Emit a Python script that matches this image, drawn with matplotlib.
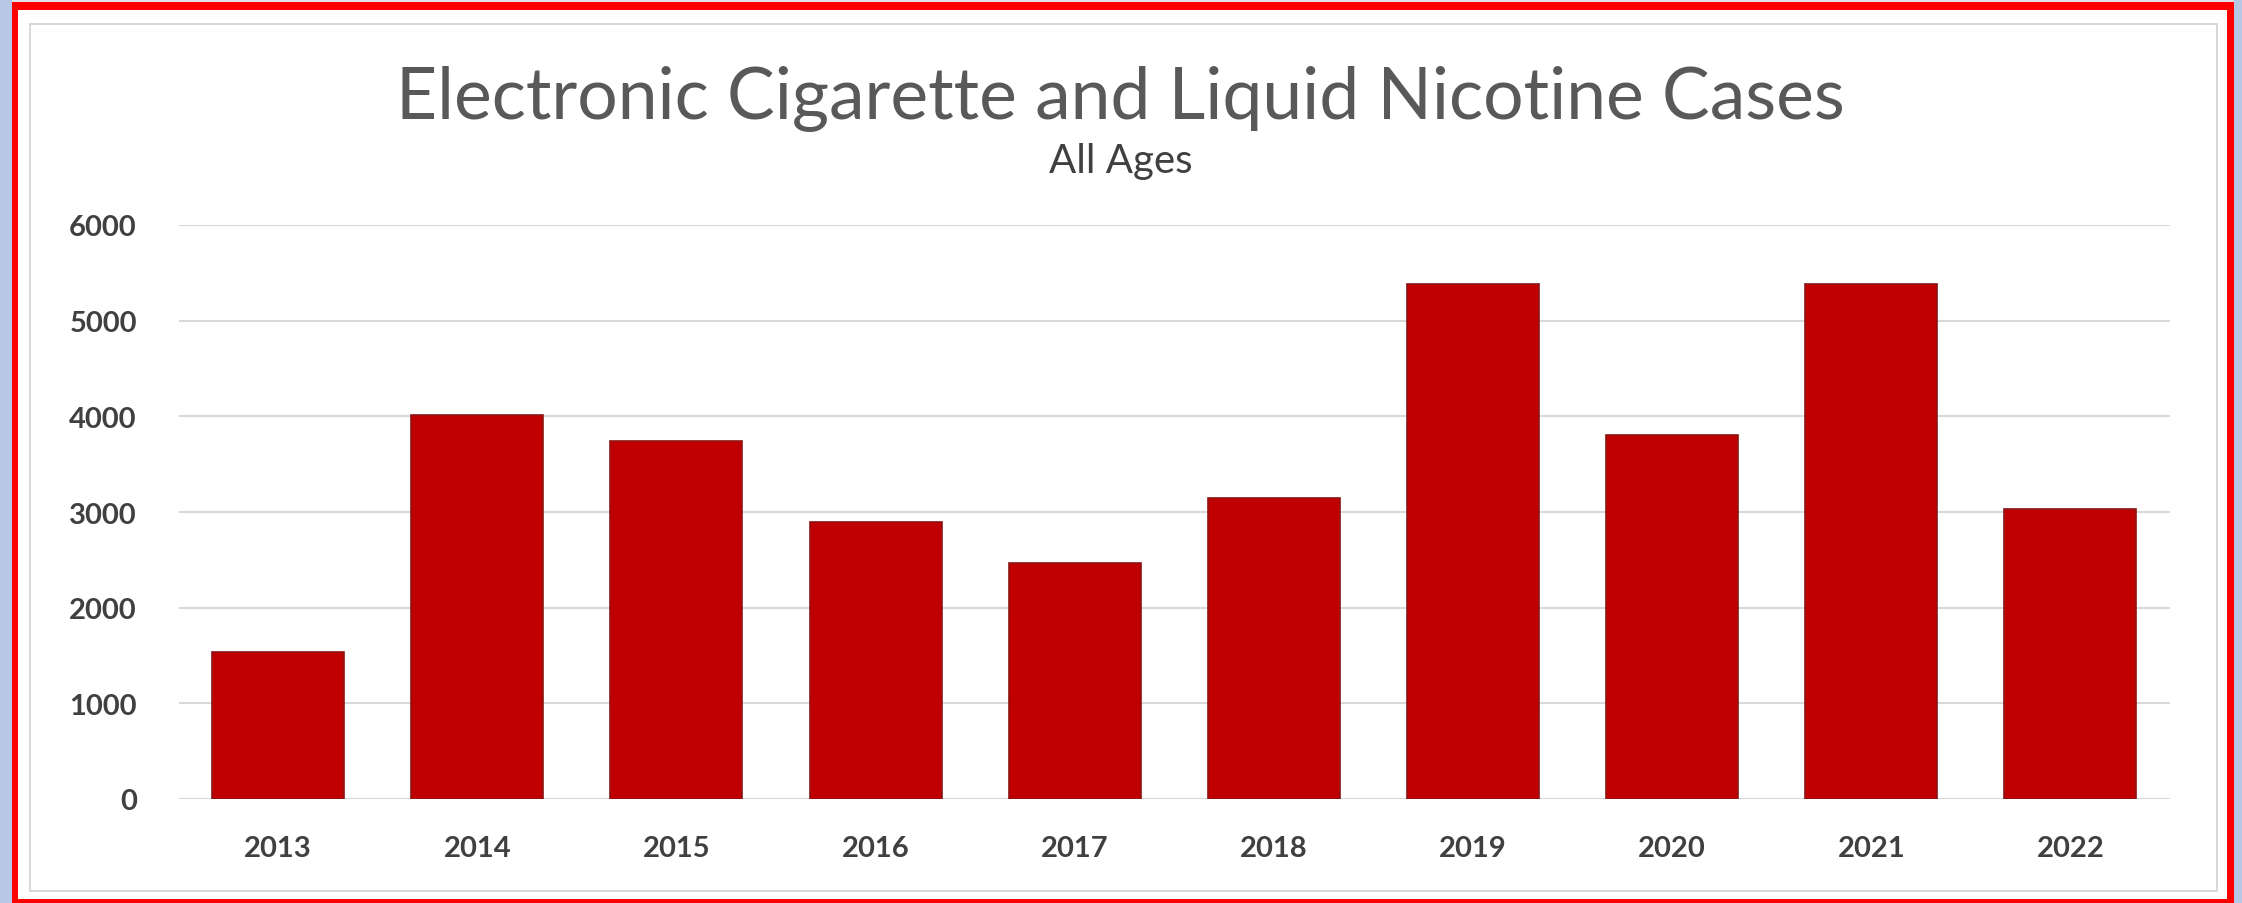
import matplotlib
matplotlib.use("Agg")
import matplotlib.pyplot as plt
from matplotlib.patches import Rectangle

years = ["2013", "2014", "2015", "2016", "2017", "2018", "2019", "2020", "2021", "2022"]
cases = [1540, 4010, 3740, 2895, 2470, 3145, 5380, 3810, 5380, 3030]
y_ticks = [0, 1000, 2000, 3000, 4000, 5000, 6000]
title = "Electronic Cigarette and Liquid Nicotine Cases"
subtitle = "All Ages"

W, H = 2242, 904
DPI = 100
plt.rcParams['font.family'] = ['Lato', 'DejaVu Sans']

fig = plt.figure(figsize=(W / DPI, H / DPI), dpi=DPI)
fig.patch.set_facecolor('white')

def px_rect(x0, y0, x1, y1, color, z=0):
    # pixel coords from top-left
    fig.patches.append(Rectangle((x0 / W, 1 - y1 / H), (x1 - x0) / W, (y1 - y0) / H,
                                 transform=fig.transFigure, facecolor=color,
                                 edgecolor='none', zorder=z))

# outer background strips
px_rect(0, 0, W, 3, '#dfe5ee')
px_rect(0, 0, 12, H, '#b7c8e6')
px_rect(2234, 0, W, H, '#b7c8e6')
# red frame
px_rect(12, 3, 2234, 10.5, '#ff0000', 1)
px_rect(12, 3, 18.5, H, '#ff0000', 1)
px_rect(2227, 3, 2234, H, '#ff0000', 1)
px_rect(12, 900, 2234, H, '#ff0000', 1)
# light gray chart border
gc = '#d9d9d9'
px_rect(28.5, 23.5, 2217.5, 25.5, gc, 1)
px_rect(28.5, 23.5, 30.5, 893, gc, 1)
px_rect(2215.5, 23.5, 2217.5, 893, gc, 1)
px_rect(28.5, 891, 2217.5, 893, gc, 1)

# axes placement (pixels): x 178.5..2170, y 226..800
ax_l, ax_r, ax_t, ax_b = 178.5, 2170, 226, 800
ax = fig.add_axes([ax_l / W, 1 - ax_b / H, (ax_r - ax_l) / W, (ax_b - ax_t) / H])
ax.set_facecolor('none')

x = list(range(len(years)))
ax.bar(x, cases, width=0.663, color='#c00000', edgecolor='#8c1414', linewidth=1.2, zorder=3)
ax.set_xlim(-0.5, len(years) - 0.5)
ax.set_ylim(0, 6000)
ax.set_yticks(y_ticks)
ax.set_yticklabels([str(v) for v in y_ticks])
ax.set_xticks(x)
ax.set_xticklabels(years)
ax.grid(axis='y', color='#d9d9d9', linewidth=1.5, zorder=0)
ax.set_axisbelow(True)
for s in ax.spines.values():
    s.set_visible(False)
ax.tick_params(axis='both', length=0, colors='#404040', labelsize=21)
ax.tick_params(axis='y', pad=30)
ax.tick_params(axis='x', pad=26)
for lab in ax.get_xticklabels() + ax.get_yticklabels():
    lab.set_fontweight('bold')
    lab.set_color('#404040')

# title & subtitle fitted to measured widths
t = fig.text(1120 / W, 1 - 99 / H, title, ha='center', va='center',
             fontsize=48, color='#595959', fontweight='normal')
st = fig.text(1121 / W, 1 - 162 / H, subtitle, ha='center', va='center',
              fontsize=22, color='#404040')
fig.canvas.draw()
r = fig.canvas.get_renderer()
for txt, target in ((t, 1449), (st, 143)):
    w = txt.get_window_extent(r).width
    txt.set_fontsize(txt.get_fontsize() * target / w)

fig.savefig('out.png', dpi=DPI, facecolor=fig.get_facecolor())
